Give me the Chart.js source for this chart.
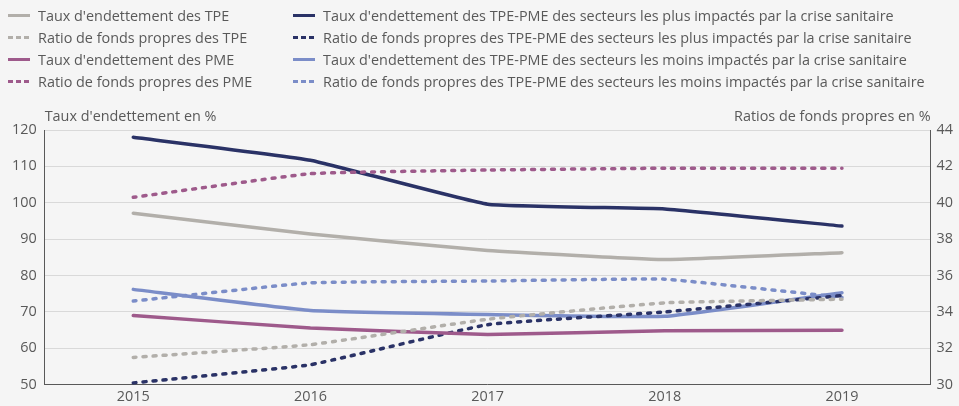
<!DOCTYPE html>
<html>
<head>
<meta charset="utf-8">
<script src="https://cdn.jsdelivr.net/npm/chart.js@4"></script>
<style>
  html, body { margin: 0; padding: 0; background: #f5f5f5; }
  #wrap { position: relative; width: 959px; height: 406px; }
  #chart { position: absolute; left: 0; top: 0; }
  #legend {
    position: absolute; left: 8px; top: 4px;
    display: grid; grid-template-columns: 285px auto; grid-auto-flow: column;
    grid-template-rows: repeat(4, 22px);
    font-family: 'Open Sans', sans-serif; font-size: 14.4px; color: #595959;
  }
  .item { display: flex; align-items: center; white-space: nowrap; }
  .swatch { width: 22px; height: 3px; margin-right: 8px; flex: none; }
</style>
</head>
<body>
<div id="wrap">
  <canvas id="chart" width="959" height="406"></canvas>
  <div id="legend"></div>
</div>
<script>
// Années
const years = ['2015', '2016', '2017', '2018', '2019'];

// Taux d'endettement (axe gauche, %)
const tauxTPE = [97.1, 91.4, 86.9, 84.4, 86.3];
const tauxPME = [69.0, 65.6, 63.8, 64.8, 65.0];
const tauxPlus = [118.0, 111.7, 99.6, 98.3, 93.6];
const tauxMoins = [76.2, 70.4, 69.3, 68.8, 75.3];

// Ratios de fonds propres (axe droit, %)
const ratioTPE = [31.5, 32.2, 33.6, 34.5, 34.7];
const ratioPME = [40.3, 41.6, 41.8, 41.9, 41.9];
const ratioPlus = [30.1, 31.1, 33.3, 34.0, 34.9];
const ratioMoins = [34.6, 35.6, 35.7, 35.8, 34.8];

const COLORS = {
  tpe: '#b2afaa',
  pme: '#9e5a8b',
  plus: '#2a3266',
  moins: '#7b8dc8'
};

function solid(label, data, color) {
  return {
    label, data, yAxisID: 'y',
    borderColor: color, backgroundColor: color,
    borderWidth: 3.5, pointRadius: 0, tension: 0.1,
    borderCapStyle: 'round', borderJoinStyle: 'round', dotted: false
  };
}
function dotted(label, data, color) {
  return {
    label, data, yAxisID: 'y1',
    borderColor: color, backgroundColor: color,
    borderWidth: 3.5, pointRadius: 0, tension: 0.1,
    borderDash: [3, 7], borderCapStyle: 'round', dotted: true
  };
}

const datasets = [
  solid("Taux d'endettement des TPE", tauxTPE, COLORS.tpe),
  dotted('Ratio de fonds propres des TPE', ratioTPE, COLORS.tpe),
  solid("Taux d'endettement des PME", tauxPME, COLORS.pme),
  dotted('Ratio de fonds propres des PME', ratioPME, COLORS.pme),
  solid("Taux d'endettement des TPE-PME des secteurs les plus impactés par la crise sanitaire", tauxPlus, COLORS.plus),
  dotted('Ratio de fonds propres des TPE-PME des secteurs les plus impactés par la crise sanitaire', ratioPlus, COLORS.plus),
  solid("Taux d'endettement des TPE-PME des secteurs les moins impactés par la crise sanitaire", tauxMoins, COLORS.moins),
  dotted('Ratio de fonds propres des TPE-PME des secteurs les moins impactés par la crise sanitaire', ratioMoins, COLORS.moins)
];

// Légende HTML en deux colonnes
const legend = document.getElementById('legend');
datasets.forEach(ds => {
  const item = document.createElement('div');
  item.className = 'item';
  const sw = document.createElement('span');
  sw.className = 'swatch';
  if (ds.dotted) {
    sw.style.background = `repeating-linear-gradient(to right, ${ds.borderColor} 0 5px, transparent 5px 8px)`;
    sw.style.width = '21px';
    sw.style.marginRight = '9px';
  } else {
    sw.style.background = ds.borderColor;
  }
  item.appendChild(sw);
  item.appendChild(document.createTextNode(ds.label));
  legend.appendChild(item);
});

// Titres d'axes horizontaux au-dessus du graphique
const axisTitles = {
  id: 'axisTitles',
  afterDraw(chart) {
    const { ctx, chartArea } = chart;
    ctx.save();
    ctx.font = '14.4px "Open Sans"';
    ctx.fillStyle = '#595959';
    ctx.textBaseline = 'bottom';
    ctx.textAlign = 'left';
    ctx.fillText("Taux d'endettement en %", chartArea.left, chartArea.top - 6);
    ctx.textAlign = 'right';
    ctx.fillText('Ratios de fonds propres en %', chartArea.right, chartArea.top - 6);
    ctx.restore();
  }
};

new Chart(document.getElementById('chart'), {
  type: 'line',
  data: { labels: years, datasets },
  plugins: [axisTitles],
  options: {
    responsive: false,
    animation: false,
    layout: { padding: { top: 130, left: 4, right: 0, bottom: -4 } },
    plugins: { legend: { display: false }, tooltip: { enabled: false } },
    scales: {
      x: {
        offset: true,
        grid: { display: false, drawTicks: false },
        border: { color: '#595959', width: 1 },
        ticks: { color: '#595959', font: { family: 'Open Sans', size: 14.4 }, padding: 4 }
      },
      y: {
        position: 'left',
        min: 50, max: 120,
        ticks: { stepSize: 10, color: '#595959', font: { family: 'Open Sans', size: 14.4 }, padding: 8 },
        grid: { color: '#d9d9d9', drawTicks: false },
        border: { color: '#595959', width: 1 }
      },
      y1: {
        position: 'right',
        min: 30, max: 44,
        ticks: { stepSize: 2, color: '#595959', font: { family: 'Open Sans', size: 14.4 }, padding: 6 },
        grid: { display: false, drawTicks: false },
        border: { color: '#595959', width: 1 }
      }
    }
  }
});
</script>
</body>
</html>
